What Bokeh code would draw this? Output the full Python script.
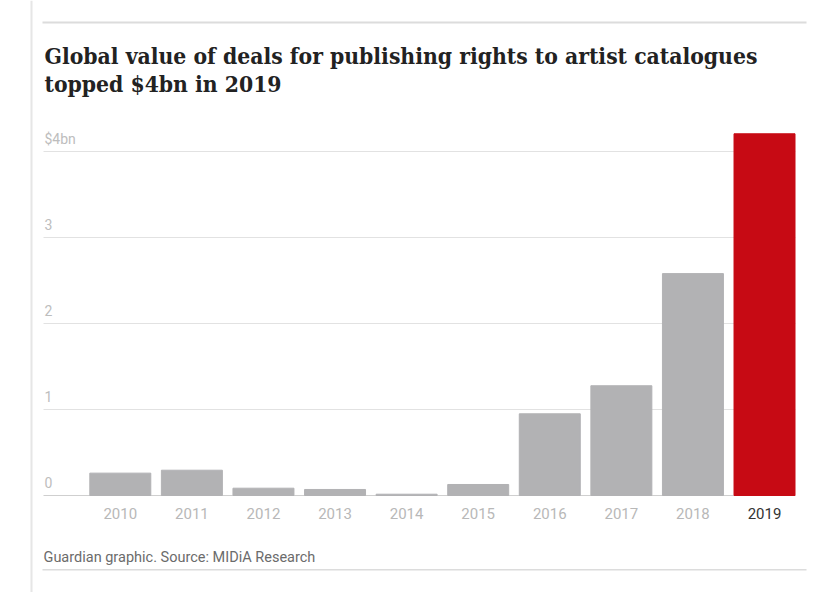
from bokeh.plotting import figure
from bokeh.models import Range1d, Label, LabelSet, BoxAnnotation, ColumnDataSource
from bokeh.core.properties import value
from bokeh.embed import file_html
from bokeh.resources import INLINE

# data ($bn)
years = ["2010", "2011", "2012", "2013", "2014", "2015", "2016", "2017", "2018", "2019"]
values = [0.26, 0.294, 0.085, 0.07, 0.015, 0.128, 0.95, 1.276, 2.58, 4.206]
y_ticks = [0, 1, 2, 3, 4]
y_tick_labels = ["0", "1", "2", "3", "$4bn"]
title_lines = ["Global value of deals for publishing rights to artist catalogues",
               "topped $4bn in 2019"]
source_note = "Guardian graphic. Source: MIDiA Research"

GREY = "#b2b2b4"
RED = "#c70a14"

# page geometry (pixels); the frame fills the whole canvas
W, H = 830, 592
PLOT_L, PLOT_R = 43, 795
BASE_Y, TOP_TICK_Y = 495, 151
BAR0_X, PITCH = 119.8, 71.58
UNIT = (BASE_Y - TOP_TICK_Y) / y_ticks[-1]

idx = list(range(len(years)))
bar_colors = [GREY] * (len(years) - 1) + [RED]
label_colors = ["#b8b8b8"] * (len(years) - 1) + ["#333333"]

p = figure(width=W, height=H, output_backend="svg", toolbar_location=None,
           x_range=Range1d(-BAR0_X / PITCH, (W - BAR0_X) / PITCH),
           y_range=Range1d(-(H - BASE_Y) / UNIT, BASE_Y / UNIT),
           x_axis_location=None, y_axis_location=None, title=None, min_border=0)
p.grid.visible = False
p.outline_line_color = None
p.background_fill_color = "white"
p.border_fill_color = "white"

# gridlines, from the tick values
gx0 = (PLOT_L - BAR0_X) / PITCH
gx1 = (PLOT_R - BAR0_X) / PITCH
p.segment(x0=gx0, x1=gx1, y0=y_ticks, y1=y_ticks,
          line_color=["#cfcfcf"] + ["#e2e2e2"] * (len(y_ticks) - 1), line_width=1)

src = ColumnDataSource(data=dict(x=idx, top=values, color=bar_colors, year=years, lc=label_colors))
p.vbar(x="x", top="top", width=0.852, bottom=0, color="color", source=src)

# category labels under the bars
p.add_layout(LabelSet(x="x", y=H - 518, y_units="screen", text="year", source=src,
                      text_align="center", text_baseline="alphabetic",
                      text_font=value("Roboto"), text_font_size="15px", text_color="lc"))

# value labels sit above the gridlines
tick_src = ColumnDataSource(data=dict(y=y_ticks, text=y_tick_labels))
p.add_layout(LabelSet(x=PLOT_L + 1, y="y", text="text", source=tick_src, x_units="screen", y_offset=8,
                      text_font=value("Roboto"), text_font_size="14px", text_color="#bdbdbd",
                      text_baseline="alphabetic"))

# title and source note
for i, line in enumerate(title_lines):
    p.add_layout(Label(x=PLOT_L + 1, y=H - 55 - 28 * i, x_units="screen", y_units="screen", text=line,
                       text_font="DejaVu Serif Condensed", text_font_style="bold", text_font_size="22.7px",
                       text_color="#222222", text_baseline="alphabetic"))
p.add_layout(Label(x=PLOT_L, y=H - 557, x_units="screen", y_units="screen", text=source_note,
                   text_font="Roboto", text_font_size="14.5px", text_color="#6b6b6b",
                   text_baseline="alphabetic"))

# rules round the graphic
for l, r, b, t, c in [(42, 806, H - 23, H - 21, "#dcdcdc"),
                      (42, 806, H - 570, H - 568.5, "#dcdcdc"),
                      (30, 32, 0, H, "#e6e6e6")]:
    p.add_layout(BoxAnnotation(left=l, right=r, bottom=b, top=t,
                               left_units="screen", right_units="screen",
                               bottom_units="screen", top_units="screen",
                               fill_color=c, fill_alpha=1, line_color=None))

open("out.html", "w").write(file_html(p, INLINE))
